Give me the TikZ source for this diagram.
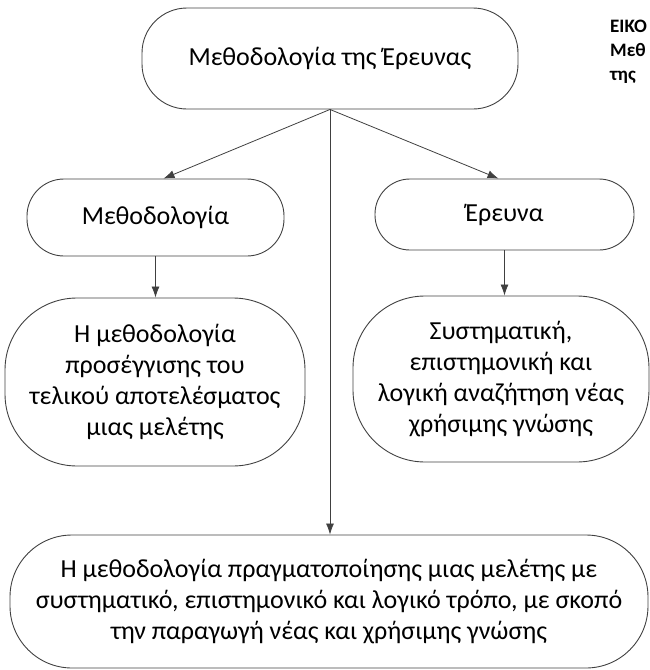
\documentclass[tikz,border=0pt]{standalone}
\usepackage{fontspec}
\setmainfont{Carlito}
\usetikzlibrary{arrows.meta}
\definecolor{linegray}{HTML}{404040}
\begin{document}
\begin{tikzpicture}[x=1pt,y=-1pt,
  box/.style={draw=linegray, line width=0.9pt, inner sep=0pt, align=center,
    font=\fontsize{26}{31}\selectfont, text=black},
  arr/.style={draw=linegray, line width=0.8pt, -{Latex[length=11pt,width=8pt]}}]
\useasboundingbox (0,0) rectangle (650,670);
\node[box, rounded corners=45, minimum width=376, minimum height=101] (top) at (330,58.5) {Μεθοδολογία της Έρευνας};
\node[box, rounded corners=37, minimum width=257, minimum height=77] (meth) at (155.5,217.5) {Μεθοδολογία};
\node[box, rounded corners=35, minimum width=259, minimum height=71] (ereuna) at (504.5,214.5) {Έρευνα};
\node[box, rounded corners=72, minimum width=300, minimum height=168] (ml) at (155,382) {Η μεθοδολογία\\προσέγγισης του\\τελικού αποτελέσματος\\μιας μελέτης};
\node[box, rounded corners=72, minimum width=296, minimum height=166] (mr) at (501,379) {Συστηματική,\\επιστημονική και\\λογική αναζήτηση νέας\\χρήσιμης γνώσης};
\node[box, rounded corners=62, minimum width=638, minimum height=133] (bot) at (329,601.5) {Η μεθοδολογία πραγματοποίησης μιας μελέτης με\\συστηματικό, επιστημονικό και λογικό τρόπο, με σκοπό\\την παραγωγή νέας και χρήσιμης γνώσης};
\node[anchor=north west, inner sep=0pt, align=left, font=\bfseries\fontsize{19}{24}\selectfont, text=black] (cap) at (610,20) {ΕΙΚΟ\\Μεθ\\της};
\coordinate (mt) at ([xshift=8]meth.north);
\coordinate (et) at ([xshift=-6]ereuna.north);
\draw[arr] (top.south) -- (mt);
\draw[arr] (top.south) -- (et);
\draw[arr] (top.south) -- (bot.north -| top.south);
\draw[arr] (meth.south) -- (ml.north -| meth.south);
\draw[arr] (ereuna.south) -- (mr.north -| ereuna.south);
\end{tikzpicture}
\end{document}
